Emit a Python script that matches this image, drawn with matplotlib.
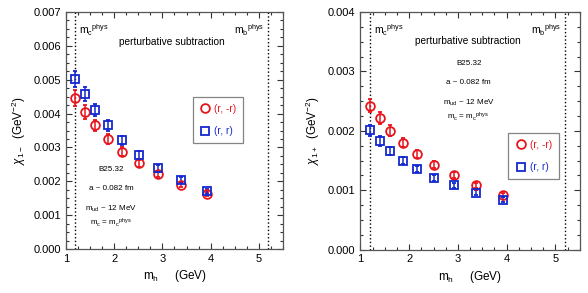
import matplotlib
matplotlib.use("Agg")
from matplotlib import pyplot as plt
from matplotlib.lines import Line2D
from matplotlib.ticker import MultipleLocator, FormatStrFormatter

plt.rcParams['font.family'] = ['Liberation Sans', 'DejaVu Sans']
plt.rcParams['mathtext.fontset'] = 'custom'
plt.rcParams['mathtext.rm'] = 'Liberation Sans'
plt.rcParams['mathtext.it'] = 'Liberation Sans:italic'

# heavy quark mass (GeV)
mh = [1.19, 1.40, 1.61, 1.87, 2.17, 2.51, 2.91, 3.38, 3.92]

# chi_1- (GeV^-2)
minus_rr = [0.00445, 0.00405, 0.00365, 0.00326, 0.00287, 0.00253, 0.00221, 0.00190, 0.00163]
minus_rr_err = [0.00024, 0.00020, 0.00017, 0.00015, 0.00013, 0.00010, 0.00008, 0.00007, 0.00006]
minus_r_r = [0.00503, 0.00458, 0.00411, 0.00365, 0.00321, 0.00279, 0.00239, 0.00204, 0.00170]
minus_r_r_err = [0.00023, 0.00020, 0.00018, 0.00016, 0.00014, 0.00012, 0.00010, 0.00008, 0.00006]

# chi_1+ (GeV^-2)
plus_rr = [0.00242, 0.00221, 0.00200, 0.00180, 0.00161, 0.00143, 0.00125, 0.00108, 0.00092]
plus_rr_err = [0.00011, 0.00010, 0.00009, 0.00008, 0.00007, 0.00006, 0.00005, 0.00004, 0.00004]
plus_r_r = [0.00201, 0.00183, 0.00166, 0.00150, 0.00135, 0.00121, 0.00108, 0.00096, 0.00084]
plus_r_r_err = [0.00009, 0.00008, 0.00007, 0.00006, 0.00005, 0.00005, 0.00004, 0.00004, 0.00004]

mc_phys = 1.19
mb_phys = 5.2

RED = '#e8141c'
BLUE = '#1428d0'


def draw_panel(ax, red, red_err, blue, blue_err, ymax, ylabel, ann_x, ann_y, leg_pos, pert_y, phys_y):
	ax.errorbar(mh, red, yerr=red_err, fmt='o', mfc='none', mec=RED, ecolor=RED,
		ms=6.3, mew=1.3, elinewidth=1.1, capsize=1.5, zorder=3)
	ax.errorbar(mh, blue, yerr=blue_err, fmt='s', mfc='none', mec=BLUE, ecolor=BLUE,
		ms=5.8, mew=1.3, elinewidth=1.1, capsize=1.5, zorder=3)

	ax.axvline(mc_phys, color='k', ls=':', lw=1)
	ax.axvline(mb_phys, color='k', ls=':', lw=1)

	ax.set_xlim(1, 5.5)
	ax.set_ylim(0, ymax)
	ax.xaxis.set_major_locator(MultipleLocator(1))
	ax.xaxis.set_minor_locator(MultipleLocator(0.25))
	ax.yaxis.set_major_locator(MultipleLocator(0.001))
	ax.yaxis.set_minor_locator(MultipleLocator(0.00025))
	ax.yaxis.set_major_formatter(FormatStrFormatter('%.3f'))
	ax.tick_params(which='both', direction='in', top=True, right=True, labelsize=8, width=0.8, color='#333333')
	ax.tick_params(which='major', length=4)
	ax.tick_params(which='minor', length=2.5)
	for s in ax.spines.values():
		s.set_color('#555555')
		s.set_linewidth(0.9)

	ax.set_xlabel(r'm$_\mathregular{h}$     (GeV)', fontsize=8.5, labelpad=3)
	ax.set_ylabel(ylabel, fontsize=8.5, labelpad=4)

	ax.text(3.2, pert_y, 'perturbative subtraction', fontsize=7.3, ha='center', va='center')
	ax.text(1.27, phys_y, r'm$_\mathregular{c}$$^{\mathregular{phys}}$', fontsize=7.5, ha='left', va='center')
	ax.text(5.12, phys_y, r'm$_\mathregular{b}$$^{\mathregular{phys}}$', fontsize=7.5, ha='right', va='center')

	lines = ['B25.32', 'a ~ 0.082 fm', r'm$_\mathregular{ud}$ ~ 12 MeV',
		r'm$_\mathregular{c}$ = m$_\mathregular{c}$$^{\mathregular{phys}}$']
	for txt, y in zip(lines, ann_y):
		ax.text(ann_x, y, txt, fontsize=5.8, ha='center', va='center')

	handles = [
		Line2D([], [], ls='none', marker='o', mfc='none', mec=RED, ms=6.3, mew=1.3),
		Line2D([], [], ls='none', marker='s', mfc='none', mec=BLUE, ms=5.8, mew=1.3),
	]
	leg = ax.legend(handles, ['(r, -r)', '(r, r)'], loc='center', bbox_to_anchor=leg_pos,
		fontsize=7.3, frameon=True, fancybox=False, labelspacing=1.25, handletextpad=0.4,
		handlelength=1.1, borderpad=0.65, numpoints=1)
	leg.get_frame().set_edgecolor('#666666')
	leg.get_frame().set_linewidth(0.9)
	for t, c in zip(leg.get_texts(), [RED, BLUE]):
		t.set_color(c)
	return leg


fig = plt.figure(figsize=(5.88, 2.93), dpi=100)
ax1 = fig.add_axes([0.1122, 0.150, 0.369, 0.809])
ax2 = fig.add_axes([0.613, 0.148, 0.373, 0.811])

draw_panel(ax1, minus_rr, minus_rr_err, minus_r_r, minus_r_r_err, 0.007,
	r'$\chi_{\mathregular{1-}}$  (GeV$^{-2}$)', 1.93,
	[0.00235, 0.00179, 0.00120, 0.00077], (0.70, 0.545), 0.00611, 0.00645)
draw_panel(ax2, plus_rr, plus_rr_err, plus_r_r, plus_r_r_err, 0.004,
	r'$\chi_{\mathregular{1+}}$  (GeV$^{-2}$)', 3.22,
	[0.00314, 0.00281, 0.00247, 0.00223], (0.79, 0.394), 0.00352, 0.00370)

fig.savefig('out.png', dpi=100)
